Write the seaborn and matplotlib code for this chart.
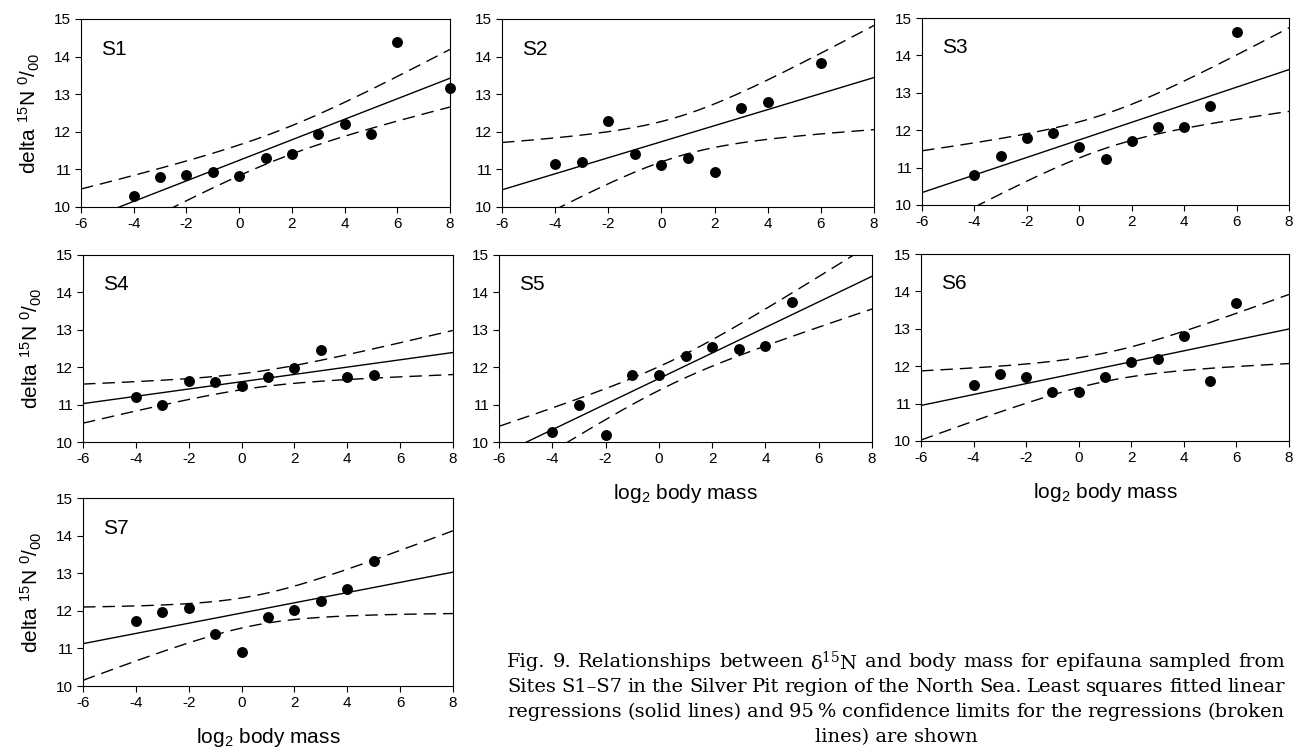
import numpy as np
import pandas as pd
import matplotlib
matplotlib.use("Agg")
import matplotlib.pyplot as plt
import seaborn as sns

# ------------------------------------------------------------
# data: log2 body mass vs delta 15N
# ------------------------------------------------------------
s1_x = [-4, -3, -2, -1, 0, 1, 2, 3, 4, 5, 6, 8]
s1_y = [10.30, 10.80, 10.85, 10.92, 10.82, 11.30, 11.42, 11.95, 12.20, 11.95, 14.40, 13.17]

s2_x = [-4, -3, -2, -1, 0, 1, 2, 3, 4, 6]
s2_y = [11.15, 11.20, 12.30, 11.42, 11.12, 11.30, 10.92, 12.62, 12.80, 13.82]

s3_x = [-4, -3, -2, -1, 0, 1, 2, 3, 4, 5, 6]
s3_y = [10.80, 11.30, 11.80, 11.92, 11.55, 11.22, 11.72, 12.08, 12.08, 12.65, 14.62]

s4_x = [-4, -3, -2, -1, 0, 1, 2, 3, 4, 5]
s4_y = [11.20, 10.98, 11.63, 11.60, 11.50, 11.75, 11.97, 12.45, 11.73, 11.80]

s5_x = [-4, -3, -2, -1, 0, 1, 2, 3, 4, 5]
s5_y = [10.28, 11.00, 10.20, 11.78, 11.78, 12.30, 12.53, 12.48, 12.57, 13.75]

s6_x = [-4, -3, -2, -1, 0, 1, 2, 3, 4, 5, 6]
s6_y = [11.50, 11.80, 11.70, 11.30, 11.30, 11.70, 12.10, 12.20, 12.82, 11.60, 13.68]

s7_x = [-4, -3, -2, -1, 0, 1, 2, 3, 4, 5]
s7_y = [11.73, 11.97, 12.08, 11.38, 10.90, 11.83, 12.03, 12.27, 12.58, 13.32]

sites = ["S1", "S2", "S3", "S4", "S5", "S6", "S7"]
site_x = [s1_x, s2_x, s3_x, s4_x, s5_x, s6_x, s7_x]
site_y = [s1_y, s2_y, s3_y, s4_y, s5_y, s6_y, s7_y]

x_ticks = [-6, -4, -2, 0, 2, 4, 6, 8]
y_ticks = [10, 11, 12, 13, 14, 15]

# two-sided 95% t quantiles by degrees of freedom
T975 = {8: 2.306, 9: 2.262, 10: 2.228}

# ------------------------------------------------------------
# style
# ------------------------------------------------------------
sns.set_theme(style="ticks")
plt.rcParams["font.family"] = ["Liberation Sans", "DejaVu Sans"]
plt.rcParams["axes.unicode_minus"] = False
plt.rcParams["axes.edgecolor"] = "black"
plt.rcParams["xtick.color"] = "black"
plt.rcParams["ytick.color"] = "black"
plt.rcParams["text.color"] = "black"
plt.rcParams["axes.labelcolor"] = "black"

W, H = 1300, 753
fig = plt.figure(figsize=(W / 100, H / 100), dpi=100)
fig.patch.set_facecolor("white")


def px(l, t, r, b):
    return [l / W, 1 - b / H, (r - l) / W, (b - t) / H]


boxes = [
    (81, 19, 450, 207), (502, 19, 874, 207), (922, 18, 1289, 205),
    (83, 255, 453, 442), (499, 255, 872, 442), (921, 254, 1289, 441),
    (83, 498, 453, 686),
]
ylab_panels = {"S1", "S4", "S7"}
xlab_panels = {"S5", "S6", "S7"}

xs = np.linspace(-6, 8, 200)

for name, bx, x, y in zip(sites, boxes, site_x, site_y):
    ax = fig.add_axes(px(*bx))
    x = np.array(x, float)
    y = np.array(y, float)
    n = len(x)

    # least squares fit and 95% confidence band of the mean response
    b1, b0 = np.polyfit(x, y, 1)
    resid = y - (b0 + b1 * x)
    s = np.sqrt((resid ** 2).sum() / (n - 2))
    sxx = ((x - x.mean()) ** 2).sum()
    fit = b0 + b1 * xs
    half = T975[n - 2] * s * np.sqrt(1 / n + (xs - x.mean()) ** 2 / sxx)

    df = pd.DataFrame({"x": xs, "fit": fit, "lo": fit - half, "hi": fit + half})
    sns.lineplot(data=df, x="x", y="fit", ax=ax, color="black", lw=1.0)
    for col in ["lo", "hi"]:
        sns.lineplot(data=df, x="x", y=col, ax=ax, color="black", lw=1.0,
                     linestyle=(0, (9, 5)))
    sns.scatterplot(x=x, y=y, ax=ax, color="black", s=62, linewidth=0,
                    zorder=3, clip_on=False)

    ax.set_xlim(-6, 8)
    ax.set_ylim(10, 15)
    ax.set_xticks(x_ticks)
    ax.set_yticks(y_ticks)
    ax.tick_params(direction="out", length=4, width=0.8, labelsize=11,
                   top=False, right=False, pad=3)
    for sp in ax.spines.values():
        sp.set_visible(True)
        sp.set_linewidth(0.8)
        sp.set_color("black")

    ax.text(0.055, 0.84, name, transform=ax.transAxes, fontsize=15,
            ha="left", va="center")

    if name in ylab_panels:
        ax.set_ylabel(r"delta $\mathregular{^{15}}$N $\mathregular{^{0}/_{00}}$",
                      fontsize=15, labelpad=9)
    else:
        ax.set_ylabel("")
    if name in xlab_panels:
        ax.set_xlabel(r"log$\mathregular{_2}$ body mass", fontsize=15, labelpad=12)
    else:
        ax.set_xlabel("")

# ------------------------------------------------------------
# caption, justified between x0 and x1
# ------------------------------------------------------------
caption = [
    r"Fig. 9. Relationships between δ$\mathregular{^{15}}$N and body mass for epifauna sampled from",
    "Sites S1\u2013S7 in the Silver Pit region of the North Sea. Least squares fitted linear",
    "regressions (solid lines) and 95\u2009% confidence limits for the regressions (broken",
]
last_line = "lines) are shown"
cap_font = dict(family=["DejaVu Serif"], fontsize=14, va="center")
renderer = fig.canvas.get_renderer()
x0, x1 = 507, 1285
for i, line in enumerate(caption):
    yc = 1 - (662 + 25 * i) / H
    words = line.split(" ")
    arts = [fig.text(0, yc, w, ha="left", **cap_font) for w in words]
    widths = [a.get_window_extent(renderer).width for a in arts]
    gap = (x1 - x0 - sum(widths)) / (len(words) - 1)
    pos = x0
    for a, w in zip(arts, widths):
        a.set_x(pos / W)
        pos += w + gap
fig.text((x0 + x1) / 2 / W, 1 - 737 / H, last_line, ha="center", **cap_font)

fig.savefig("out.png", dpi=100, facecolor="white")
